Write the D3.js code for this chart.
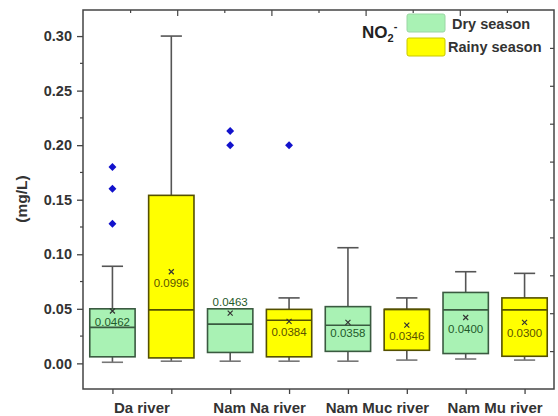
<!DOCTYPE html>
<html><head><meta charset="utf-8">
<script src="https://cdn.jsdelivr.net/npm/d3@7"></script>
<style>body{margin:0;background:#fff;} svg{display:block;}</style>
</head><body>
<svg id="chart" width="558" height="416"></svg>
<script>
const categories = ["Da river", "Nam Na river", "Nam Muc river", "Nam Mu river"];
const seasons = ["Dry season", "Rainy season"];
const yTicks = [0.00, 0.05, 0.10, 0.15, 0.20, 0.25, 0.30];

const dryLow  = [0.001, 0.002, 0.002, 0.004];
const dryQ1   = [0.006, 0.010, 0.011, 0.009];
const dryMed  = [0.033, 0.036, 0.035, 0.049];
const dryQ3   = [0.050, 0.050, 0.052, 0.065];
const dryHigh = [0.089, 0.050, 0.106, 0.084];
const dryMean = [0.048, 0.046, 0.0376, 0.042];
const dryMeanLabel = ["0.0462", "0.0463", "0.0358", "0.0400"];
const dryOutliers = [[0.18, 0.16, 0.128], [0.213, 0.20], [], []];

const rainyLow  = [0.002, 0.002, 0.003, 0.003];
const rainyQ1   = [0.005, 0.006, 0.012, 0.0065];
const rainyMed  = [0.049, 0.0395, 0.0495, 0.049];
const rainyQ3   = [0.154, 0.0495, 0.0495, 0.060];
const rainyHigh = [0.300, 0.060, 0.060, 0.0825];
const rainyMean = [0.084, 0.0385, 0.035, 0.0376];
const rainyMeanLabel = ["0.0996", "0.0384", "0.0346", "0.0300"];
const rainyOutliers = [[], [0.20], [], []];

const labelPlacement = {dry: ["below", "above", "below", "below"], rainy: ["below", "below", "below", "below"]};

const style = {
  dry:   {fill: "#a9f2b4", stroke: "#3a5a40", text: "#1f5a2a"},
  rainy: {fill: "#ffff00", stroke: "#545000", text: "#5a5200"}
};

const W = 558, H = 416;
const m = {left: 83, right: 4, top: 10, bottom: 27};
const x0 = m.left, x1 = W - m.right, y0 = m.top, y1 = H - m.bottom;

const svg = d3.select("#chart");
const font = "Arial, 'Liberation Sans', sans-serif";

const x = d3.scaleLinear().domain([0.5, 8.5]).range([x0, x1]);
const y = d3.scaleLinear().domain([-0.0235, 0.3239]).range([y1, y0]);

const boxes = [];
categories.forEach((c, i) => {
  boxes.push({cat: c, s: "dry", pos: i * 2 + 1, low: dryLow[i], q1: dryQ1[i], med: dryMed[i], q3: dryQ3[i], high: dryHigh[i], mean: dryMean[i], label: dryMeanLabel[i], out: dryOutliers[i], place: labelPlacement.dry[i]});
  boxes.push({cat: c, s: "rainy", pos: i * 2 + 2, low: rainyLow[i], q1: rainyQ1[i], med: rainyMed[i], q3: rainyQ3[i], high: rainyHigh[i], mean: rainyMean[i], label: rainyMeanLabel[i], out: rainyOutliers[i], place: labelPlacement.rainy[i]});
});

const boxW = x(1.77) - x(1);
const capW = x(1.36) - x(1);

const g = svg.append("g");

boxes.forEach(b => {
  const cx = x(b.pos), st = style[b.s];
  g.append("line").attr("x1", cx).attr("x2", cx).attr("y1", y(b.q3)).attr("y2", y(b.high)).attr("stroke", "#555").attr("stroke-width", 1.6);
  g.append("line").attr("x1", cx).attr("x2", cx).attr("y1", y(b.q1)).attr("y2", y(b.low)).attr("stroke", "#555").attr("stroke-width", 1.6);
  if (b.high > b.q3) g.append("line").attr("x1", cx - capW / 2).attr("x2", cx + capW / 2).attr("y1", y(b.high)).attr("y2", y(b.high)).attr("stroke", "#555").attr("stroke-width", 1.6);
  g.append("line").attr("x1", cx - capW / 2).attr("x2", cx + capW / 2).attr("y1", y(b.low)).attr("y2", y(b.low)).attr("stroke", "#777").attr("stroke-width", 1.6);
  g.append("rect").attr("x", cx - boxW / 2).attr("width", boxW).attr("y", y(b.q3)).attr("height", y(b.q1) - y(b.q3))
    .attr("fill", st.fill).attr("stroke", st.stroke).attr("stroke-width", 1.6);
  g.append("line").attr("x1", cx - boxW / 2).attr("x2", cx + boxW / 2).attr("y1", y(b.med)).attr("y2", y(b.med)).attr("stroke", st.stroke).attr("stroke-width", 1.6);
  const my = y(b.mean);
  g.append("path").attr("d", `M${cx - 2.5},${my - 2.5}L${cx + 2.5},${my + 2.5}M${cx - 2.5},${my + 2.5}L${cx + 2.5},${my - 2.5}`)
    .attr("stroke", "#333").attr("stroke-width", 1.2);
  g.append("text").attr("x", cx).attr("y", my + (b.place === "below" ? 11 : -11)).attr("dy", "0.35em")
    .attr("text-anchor", "middle").attr("font-family", font).attr("font-size", 11.5).attr("fill", st.text).text(b.label);
  b.out.forEach(v => {
    g.append("path").attr("d", d3.symbol(d3.symbolDiamond2, 40)()).attr("transform", `translate(${cx},${y(v)})`).attr("fill", "#1212cc");
  });
});

svg.append("rect").attr("x", x0).attr("y", y0).attr("width", x1 - x0).attr("height", y1 - y0).attr("fill", "none").attr("stroke", "#444").attr("stroke-width", 1.5);

const leftAx = svg.append("g").attr("transform", `translate(${x0},0)`);
leftAx.call(d3.axisLeft(y).tickValues(yTicks).tickFormat(d3.format(".2f")).tickSize(6).tickPadding(5));
leftAx.call(g2 => g2.select(".domain").remove());
leftAx.selectAll(".tick line").attr("stroke", "#444").attr("stroke-width", 1.3);
leftAx.selectAll("text").attr("font-family", font).attr("font-size", 14.5).attr("font-weight", "bold").attr("fill", "#333");
leftAx.selectAll(".minor").data([0.025, 0.075, 0.125, 0.175, 0.225, 0.275]).enter().append("line").attr("class", "minor")
  .attr("x1", 0).attr("x2", -3).attr("y1", d => y(d)).attr("y2", d => y(d)).attr("stroke", "#444").attr("stroke-width", 1.2);

const bottomAx = svg.append("g").attr("transform", `translate(0,${y1})`);
bottomAx.call(d3.axisBottom(x).tickValues(d3.range(1, 9)).tickFormat("").tickSize(5));
bottomAx.call(g2 => g2.select(".domain").remove());
bottomAx.selectAll(".tick line").attr("stroke", "#444").attr("stroke-width", 1.3);
categories.forEach((c, i) => {
  svg.append("text").attr("x", x(i * 2 + 1.5)).attr("y", 413).attr("text-anchor", "middle")
    .attr("font-family", font).attr("font-size", 15).attr("font-weight", "bold").attr("fill", "#333").text(c);
});

const xt = d3.scaleLinear().domain([0, 10]).range([x0, x1]);
const topAx = svg.append("g").attr("transform", `translate(0,${y0})`);
topAx.call(d3.axisBottom(xt).tickValues(d3.range(1, 10)).tickFormat("").tickSize(4));
topAx.call(g2 => g2.select(".domain").remove());
topAx.selectAll(".tick line").attr("stroke", "#444").attr("stroke-width", 1.2).attr("y2", d => d % 2 === 0 ? 6 : 3);
const yr = d3.scaleLinear().domain([0, 10]).range([y1, y0]);
const rightAx = svg.append("g").attr("transform", `translate(${x1},0)`);
rightAx.call(d3.axisLeft(yr).tickValues(d3.range(1, 10)).tickFormat("").tickSize(4));
rightAx.call(g2 => g2.select(".domain").remove());
rightAx.selectAll(".tick line").attr("stroke", "#444").attr("stroke-width", 1.2);

svg.append("text").attr("transform", "translate(22,199) rotate(-90)").attr("text-anchor", "middle").attr("dy", "0.35em")
  .attr("font-family", font).attr("font-size", 15.5).attr("font-weight", "bold").attr("fill", "#333").text("(mg/L)");

const lg = svg.append("g");
const no2 = lg.append("text").attr("x", 362).attr("y", 38).attr("font-family", font).attr("font-size", 17).attr("font-weight", "bold").attr("fill", "#222");
no2.append("tspan").text("NO");
no2.append("tspan").attr("font-size", 11).attr("dy", 4).text("2");
no2.append("tspan").attr("font-size", 11).attr("dy", -12).text("-");
seasons.forEach((s, i) => {
  const k = i === 0 ? "dry" : "rainy";
  lg.append("rect").attr("x", 407).attr("y", 14 + i * 24).attr("width", 38).attr("height", 18).attr("rx", 2)
    .attr("fill", style[k].fill).attr("stroke", i === 0 ? "#9ad6a4" : "#c8c800").attr("stroke-width", 1);
  lg.append("text").attr("x", i === 0 ? 452 : 448).attr("y", 29 + i * 23).attr("font-family", font).attr("font-size", 14.5)
    .attr("font-weight", "bold").attr("fill", "#333").text(s);
});
</script>
</body></html>
